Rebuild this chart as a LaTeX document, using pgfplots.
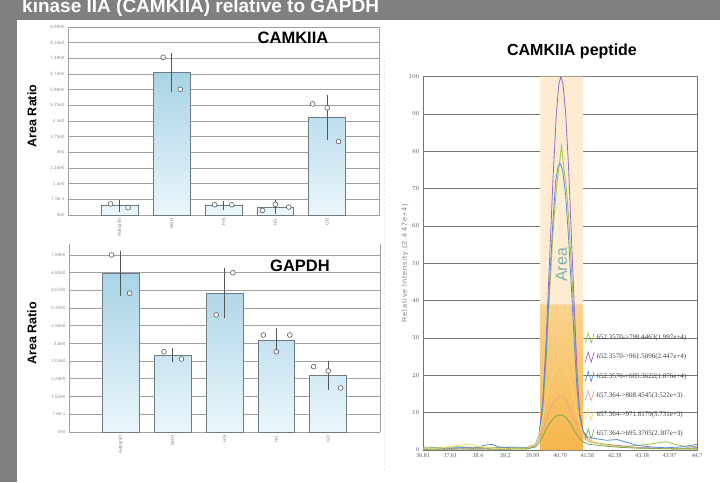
\documentclass[border=0pt]{standalone}
\usepackage{pgfplots}
\pgfplotsset{compat=1.18}
\usepackage{fontspec}
\setmainfont{Liberation Sans}
\newfontfamily\chrfont{Liberation Serif}
\newfontfamily\spacedfont[LetterSpace=14]{Liberation Sans}
\definecolor{bggray}{HTML}{808080}
\definecolor{barTop}{HTML}{A9D3E5}
\definecolor{barBot}{HTML}{EAF6FB}
\definecolor{barEdge}{HTML}{6C7C84}
\definecolor{errgray}{HTML}{555555}
\definecolor{gridgray}{HTML}{A0A0A0}
\definecolor{cLG}{HTML}{9CC44A}
\definecolor{cPU}{HTML}{A066C4}
\definecolor{cBL}{HTML}{5A8ED4}
\definecolor{cSA}{HTML}{F0A48C}
\definecolor{cYE}{HTML}{F2DC66}
\definecolor{cGR}{HTML}{74AE4E}
\definecolor{peach}{HTML}{FDEBD2}
\definecolor{orangeA}{HTML}{F6B64C}
\definecolor{orangeB}{HTML}{FAD390}
\definecolor{areaTeal}{HTML}{7DB3AA}
\pgfplotsset{
  barax/.style={scale only axis, width=311pt, height=188pt,
    xmin=-1, xmax=5, ymin=0,
    xtick={0,1,2,3,4}, xticklabels={Autograft,NGH,HN,HG,GD},
    xtick pos=bottom,
    x tick label style={rotate=90, anchor=east, font=\fontsize{4.5}{5}\selectfont, text=gray},
    yticklabel style={font=\fontsize{4.6}{5}\selectfont, text=gray!85},
    ymajorgrids, grid style={gridgray, line width=0.9pt},
    axis line style={gridgray, line width=0.9pt},
    major tick length=2pt, tick style={gray!80},
    ytick style={draw=none},
    clip=false},
  ptstyle/.style={only marks, mark=*, mark size=2.4pt, mark options={fill=white, draw=gray!70!black, line width=0.6pt}, forget plot},
  errstyle/.style={forget plot, draw=none, mark=none,
    error bars/.cd, y dir=both, y explicit,
    error bar style={draw=errgray, line width=0.8pt},
    error mark options={draw=errgray, line width=0.8pt, mark size=4pt}},
}
\begin{document}
\begin{tikzpicture}
\useasboundingbox (0,0) rectangle (720pt,482pt);
\clip (0,0) rectangle (720pt,482pt);
\fill[bggray] (0,0) rectangle (720pt,482pt);
\fill[white] (16.5pt,0) rectangle (720pt,461.5pt);
\node[anchor=base west, text=white, font=\bfseries\fontsize{19}{19}\selectfont, inner sep=0] at (22pt,469.5pt) {kinase IIA (CAMKIIA) relative to GAPDH};
\draw[gray!25, line width=0.6pt, dotted] (384pt,12pt) -- (384pt,430pt);

% ---------- CAMKIIA bars ----------
\begin{axis}[barax, at={(68pt,267pt)}, anchor=south west, ymax=8.99,
  ytick={0,0.749,1.498,2.247,2.996,3.745,4.494,5.243,5.992,6.741,7.49,8.239,8.988},
  yticklabels={0e0,7.5e-1,1.5e0,2.25e0,3e0,3.75e0,4.5e0,5.25e0,5.99e0,6.74e0,7.49e0,8.24e0,8.99e0}]
\addplot[ybar, bar width=0.71, draw=barEdge, line width=0.7pt, top color=barTop, bottom color=barBot, forget plot]
  coordinates {(0,0.44) (1,6.80) (2,0.45) (3,0.38) (4,4.67)};
\addplot[errstyle] coordinates {(0,0.44) +- (0,0.09) (1,6.80) +- (0,0.75) (2,0.45) +- (0,0.03) (3,0.38) +- (0,0.13) (4,4.67) +- (0,0.88)};
\addplot[ptstyle] coordinates {(-0.18,0.53) (0.16,0.35) (0.835,7.54) (1.165,6.01) (1.83,0.49) (2.16,0.49) (2.75,0.22) (3.0,0.51) (3.26,0.38) (3.72,5.31) (4.0,5.13) (4.22,3.52)};
\end{axis}
\node[font=\bfseries\fontsize{16.5}{17}\selectfont] at (293pt,444pt) {CAMKIIA};
\node[rotate=90, font=\bfseries\fontsize{12.5}{13}\selectfont] at (32pt,366pt) {Area Ratio};

% ---------- GAPDH bars ----------
\begin{axis}[barax, at={(69pt,50pt)}, anchor=south west, ymax=8.06,
  axis x line*=bottom, axis y line*=left,
  ytick={0,0.759,1.518,2.277,3.036,3.795,4.554,5.313,6.072,6.831,7.59},
  yticklabels={0e0,7.6e-1,1.52e0,2.28e0,3.04e0,3.8e0,4.56e0,5.32e0,6.07e0,6.83e0,7.59e0}]
\addplot[ybar, bar width=0.71, draw=barEdge, line width=0.7pt, top color=barTop, bottom color=barBot, forget plot]
  coordinates {(0,6.80) (1,3.30) (2,5.95) (3,3.94) (4,2.44)};
\addplot[errstyle] coordinates {(0,6.80) +- (0,0.80) (1,3.30) +- (0,0.13) (2,5.95) +- (0,0.89) (3,3.94) +- (0,0.36) (4,2.44) +- (0,0.45)};
\addplot[ptstyle] coordinates {(-0.18,7.59) (0.17,5.95) (0.83,3.44) (1.17,3.13) (1.84,5.02) (2.16,6.83) (2.75,4.16) (3.0,3.44) (3.26,4.16) (3.72,2.80) (4.0,2.62) (4.24,1.89)};
\addplot[draw=gridgray, line width=0.9pt, forget plot] coordinates {(5,0) (5,8.06)};
\end{axis}
\node[font=\bfseries\fontsize{16.5}{17}\selectfont] at (300pt,216pt) {GAPDH};
\node[rotate=90, font=\bfseries\fontsize{12.5}{13}\selectfont] at (32pt,148.5pt) {Area Ratio};

% ---------- chromatogram ----------
\node[font=\bfseries\fontsize{16}{17}\selectfont] at (572pt,431pt) {CAMKIIA peptide};
\begin{axis}[scale only axis, at={(423pt,32pt)}, anchor=south west,
  width=274pt, height=373.3pt,
  xmin=36.81, xmax=44.7, ymin=0, ymax=100,
  xtick={36.81,37.599,38.388,39.177,39.966,40.755,41.544,42.333,43.122,43.911,44.7},
  xticklabels={36.81,37.61,38.4,39.2,39.99,40.79,41.58,42.38,43.18,43.97,44.7},
  ytick={0,10,20,30,40,50,60,70,80,90,100},
  ymajorgrids, grid style={gray!90!black, line width=0.7pt},
  axis line style={gray!90!black, line width=0.7pt},
  major tick length=0pt,
  ticklabel style={font=\chrfont\fontsize{6}{6}\selectfont, text=black!65},
  ylabel={Relative Intensity (2.447e+4)},
  ylabel style={at={(axis description cs:-0.066,0.5)}, anchor=center, font=\spacedfont\fontsize{7.2}{8}\selectfont, text=gray},
  legend style={at={(rel axis cs:0.59,0.315)}, anchor=north west, draw=none, fill=none,
    font=\chrfont\fontsize{7}{7}\selectfont, text=black!75, row sep=8.5pt, inner sep=0pt},
  legend cell align=left,
  legend image code/.code={\draw[#1, line width=0.7pt] (0pt,-5pt) -- (3pt,5pt) -- (6pt,-5pt) -- (9pt,5pt);},
  clip=true]
\addplot[fill=peach, draw=none, forget plot] coordinates {(40.18,0) (40.18,100) (41.42,100) (41.42,0)} \closedcycle;
\addplot[draw=none, top color=orangeB, bottom color=orangeA, forget plot] coordinates {(40.18,0) (40.18,39) (41.42,39) (41.42,0)} \closedcycle;
\addplot[cLG, line width=0.8pt] coordinates {(36.81,0.8) (37.3,0.6) (37.8,0.9) (38.3,0.7) (38.8,0.6) (39.3,0.8) (39.8,0.7) (40.05,1.5) (40.15,3.5) (40.25,10) (40.35,23) (40.45,41) (40.55,58) (40.65,70) (40.73,76) (40.80,81.5) (40.86,76) (40.94,70) (41.02,60) (41.1,46) (41.18,31) (41.26,17) (41.34,8) (41.44,4) (41.6,2.5) (41.8,2) (42.1,1.5) (42.5,1) (43.0,1.2) (43.5,1.8) (43.8,2.2) (44.1,1.5) (44.4,0.8) (44.7,1)};
\addlegendentry{652.3570->798.4463(1.997e+4)}
\addplot[cPU, line width=0.8pt] coordinates {(36.81,0.3) (37.2,0.5) (37.6,0.4) (38.0,0.6) (38.4,0.5) (38.8,0.4) (39.2,0.6) (39.6,0.5) (39.9,0.6) (40.05,1.5) (40.15,4) (40.25,12) (40.35,28) (40.45,50) (40.55,72) (40.65,90) (40.72,98) (40.78,100) (40.84,98) (40.92,90) (41.0,76) (41.08,58) (41.16,40) (41.24,22) (41.32,10) (41.42,5) (41.55,3) (41.7,2) (42.0,1.5) (42.4,1.2) (42.8,0.8) (43.2,0.6) (43.6,0.5) (44.0,0.4) (44.4,0.5) (44.7,0.6)};
\addlegendentry{652.3570->961.5096(2.447e+4)}
\addplot[cBL, line width=0.8pt] coordinates {(36.81,0.5) (37.3,0.4) (37.8,0.6) (38.3,0.5) (38.6,1.3) (38.8,1.5) (39.0,0.8) (39.4,0.5) (39.8,0.6) (40.05,1.5) (40.15,4) (40.25,11) (40.35,25) (40.45,44) (40.55,61) (40.63,72) (40.7,76) (40.76,76.7) (40.83,75) (40.92,68) (41.0,57) (41.08,44) (41.16,30) (41.24,17) (41.32,9) (41.42,5) (41.55,3.5) (41.8,3) (42.1,2.6) (42.4,2.8) (42.7,2) (43.0,1.2) (43.4,0.8) (43.8,0.6) (44.2,0.8) (44.5,1.2) (44.7,1.5)};
\addlegendentry{652.3570->685.3622(1.876e+4)}
\addplot[cSA, line width=0.8pt] coordinates {(36.81,0.2) (37.5,0.3) (38.2,0.2) (39.0,0.3) (39.8,0.3) (40.05,1) (40.15,2.5) (40.25,5) (40.35,8) (40.45,10.5) (40.55,12.5) (40.65,13.8) (40.75,14.4) (40.85,14.2) (40.95,13) (41.05,11) (41.15,8.5) (41.25,6) (41.35,4) (41.45,3) (41.6,2.2) (41.8,1.8) (42.1,1.4) (42.5,1) (43.0,0.6) (43.5,0.4) (44.0,0.3) (44.7,0.3)};
\addlegendentry{657.364->808.4545(3.522e+3)}
\addplot[cYE, line width=0.8pt] coordinates {(36.81,0.3) (37.3,0.5) (37.8,1.2) (38.1,1.6) (38.4,1) (38.8,0.4) (39.3,0.3) (39.8,0.5) (40.05,1.5) (40.15,4) (40.25,8) (40.35,13) (40.45,17.5) (40.55,20.5) (40.65,22.5) (40.75,23.4) (40.85,23) (40.95,21) (41.05,18) (41.15,14) (41.25,9.5) (41.35,6) (41.45,3.5) (41.6,2.5) (41.8,2) (42.1,1.2) (42.5,0.8) (43.0,0.5) (43.5,0.4) (44.0,0.3) (44.7,0.4)};
\addlegendentry{657.364->971.8179(5.731e+3)}
\addplot[cGR, line width=0.8pt] coordinates {(36.81,0.2) (37.5,0.2) (38.2,0.3) (39.0,0.2) (39.8,0.3) (40.05,0.8) (40.15,1.8) (40.25,3.5) (40.35,5.5) (40.45,7) (40.55,8.3) (40.65,9.1) (40.75,9.4) (40.85,9.2) (40.95,8.5) (41.05,7.2) (41.15,5.5) (41.25,4) (41.35,2.8) (41.45,2) (41.6,1.5) (41.8,1.3) (42.1,1.0) (42.5,0.7) (43.0,0.5) (43.5,0.4) (44.0,0.3) (44.7,0.3)};
\addlegendentry{657.364->695.3705(2.307e+3)}
\node[rotate=90, text=areaTeal, font=\fontsize{16}{16}\selectfont] at (axis cs:40.80,49.6) {Area};
\end{axis}
\end{tikzpicture}
\end{document}
